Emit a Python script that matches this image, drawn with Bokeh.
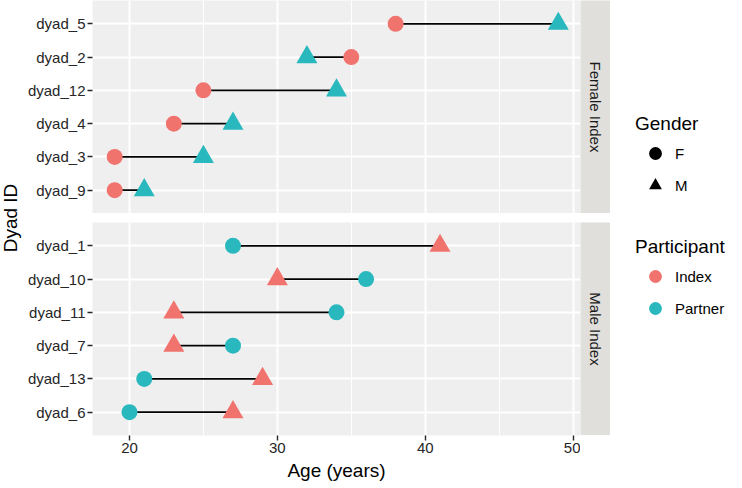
import math
from bokeh.plotting import figure
from bokeh.models import (ColumnDataSource, FactorRange, Range1d, FixedTicker,
                          Label, Legend, LegendItem, Spacer)
from bokeh.layouts import row, column
from bokeh.embed import file_html
from bokeh.resources import INLINE

# ---------------- data ----------------
female_ids = ["dyad_5", "dyad_2", "dyad_12", "dyad_4", "dyad_3", "dyad_9"]
female_index_age = [38, 35, 25, 23, 19, 19]
female_partner_age = [49, 32, 34, 27, 25, 21]
female_index_gender = "F"
female_partner_gender = "M"

male_ids = ["dyad_1", "dyad_10", "dyad_11", "dyad_7", "dyad_13", "dyad_6"]
male_index_age = [41, 30, 23, 23, 29, 27]
male_partner_age = [27, 36, 34, 27, 21, 20]
male_index_gender = "M"
male_partner_gender = "F"

facet_labels = ["Female Index", "Male Index"]
x_ticks = [20, 30, 40, 50]
x_minor = [25, 35, 45]
gender_levels = ["F", "M"]
participant_levels = ["Index", "Partner"]

# ---------------- style ----------------
FONT = "Liberation Sans"
RED = "#F0736E"
TEAL = "#29B8BD"
PANEL = "#EFEFEF"
STRIP = "#E0DFDB"
TXT = "#262626"
MARKER = {"F": "circle", "M": "triangle"}
MSIZE = {"F": 16, "M": 21}

PW, PH = 488, 213
GAP = 9
AXIS_H = 46


def bare(fig):
    fig.axis.visible = False
    fig.grid.visible = False
    fig.outline_line_color = None


def make_panel(ids, idx_age, idx_g, par_age, par_g, show_x):
    n = len(ids)
    src = ColumnDataSource(dict(
        dyad=ids, index_age=idx_age, partner_age=par_age,
        index_marker=[MARKER[idx_g]] * n, partner_marker=[MARKER[par_g]] * n,
        index_size=[MSIZE[idx_g]] * n, partner_size=[MSIZE[par_g]] * n,
    ))
    fig = figure(frame_width=PW, frame_height=PH,
                 x_range=Range1d(17.5, 50.5),
                 y_range=FactorRange(factors=list(reversed(ids)), range_padding=0.2,
                                     range_padding_units="absolute"),
                 output_backend="svg", toolbar_location=None,
                 min_border_left=65, min_border_right=0,
                 min_border_top=0, min_border_bottom=0)
    fig.background_fill_color = PANEL
    fig.border_fill_color = "white"
    fig.outline_line_color = None

    ticker = FixedTicker(ticks=x_ticks, minor_ticks=x_minor)
    fig.xaxis.ticker = ticker
    fig.xgrid.ticker = ticker
    fig.xgrid.grid_line_color = "white"
    fig.xgrid.grid_line_width = 2
    fig.xgrid.minor_grid_line_color = "white"
    fig.xgrid.minor_grid_line_width = 1
    fig.ygrid.grid_line_color = "white"
    fig.ygrid.grid_line_width = 2

    for ax in (fig.xaxis, fig.yaxis):
        ax.axis_line_color = None
        ax.major_tick_line_color = TXT
        ax.major_tick_line_width = 1.4
        ax.major_tick_out = 5
        ax.major_tick_in = 0
        ax.minor_tick_line_color = None
        ax.major_label_text_font = FONT
        ax.major_label_text_font_size = "15px"
        ax.major_label_text_color = TXT
        ax.major_label_standoff = 2
    if show_x:
        fig.xaxis.axis_label = "Age (years)"
        fig.xaxis.axis_label_text_font = FONT
        fig.xaxis.axis_label_text_font_size = "19px"
        fig.xaxis.axis_label_text_font_style = "normal"
        fig.xaxis.axis_label_text_color = "black"
        fig.xaxis.axis_label_standoff = 4
    else:
        fig.xaxis.visible = False

    fig.segment(x0="index_age", y0="dyad", x1="partner_age", y1="dyad",
                source=src, line_color="black", line_width=1.8)
    fig.scatter(x="index_age", y="dyad", marker="index_marker", size="index_size",
                source=src, fill_color=RED, line_color=None)
    fig.scatter(x="partner_age", y="dyad", marker="partner_marker", size="partner_size",
                source=src, fill_color=TEAL, line_color=None)
    return fig


def make_strip(text):
    s = figure(frame_width=30, frame_height=PH, x_range=Range1d(0, 1), y_range=Range1d(0, 1),
               output_backend="svg", toolbar_location=None,
               min_border=0, min_border_left=0, min_border_right=0,
               min_border_top=0, min_border_bottom=0)
    bare(s)
    s.background_fill_color = STRIP
    s.border_fill_color = STRIP
    s.add_layout(Label(x=0.5, y=0.5, text=text, angle=-math.pi / 2,
                       text_align="center", text_baseline="middle",
                       text_font=FONT, text_font_size="15px", text_color="#1A1A1A"))
    return s


top = make_panel(female_ids, female_index_age, female_index_gender,
                 female_partner_age, female_partner_gender, False)
bottom = make_panel(male_ids, male_index_age, male_index_gender,
                    male_partner_age, male_partner_gender, True)
strip_top = make_strip(facet_labels[0])
strip_bottom = make_strip(facet_labels[1])

# y-axis title
ytitle = figure(frame_width=24, frame_height=2 * PH + GAP, x_range=Range1d(0, 1),
                y_range=Range1d(0, 1), output_backend="svg", toolbar_location=None,
                min_border=0, min_border_left=0, min_border_right=0,
                min_border_top=0, min_border_bottom=0)
bare(ytitle)
ytitle.add_layout(Label(x=0.4, y=0.5, text="Dyad ID", angle=math.pi / 2,
                        text_align="center", text_baseline="middle",
                        text_font=FONT, text_font_size="19px", text_color="black"))

# legends
LEG_H = 470
leg = figure(frame_width=122, frame_height=LEG_H, x_range=Range1d(0, 1), y_range=Range1d(0, 1),
             output_backend="svg", toolbar_location=None,
             min_border=0, min_border_left=0, min_border_right=0,
             min_border_top=0, min_border_bottom=0)
bare(leg)

nan = float("nan")
g_items = []
for g in gender_levels:
    r = leg.scatter(x="x", y="y", source=ColumnDataSource(dict(x=[nan], y=[nan])),
                    marker=MARKER[g], fill_color="black", line_color=None)
    g_items.append(LegendItem(label=g, renderers=[r]))
p_items = []
for lab, col in zip(participant_levels, [RED, TEAL]):
    r = leg.scatter(x="x", y="y", source=ColumnDataSource(dict(x=[nan], y=[nan])),
                    marker="circle", fill_color=col, line_color=None)
    p_items.append(LegendItem(label=lab, renderers=[r]))


def style_legend(lg):
    lg.title_text_font = FONT
    lg.title_text_font_size = "19px"
    lg.title_text_font_style = "normal"
    lg.title_text_color = "black"
    lg.title_standoff = 2
    lg.label_text_font = FONT
    lg.label_text_font_size = "15px"
    lg.label_text_color = "black"
    lg.glyph_width = 40
    lg.glyph_height = 32
    lg.spacing = 0
    lg.label_standoff = 0
    lg.padding = 0
    lg.margin = 0
    lg.border_line_color = None
    lg.background_fill_alpha = 0


lg1 = Legend(items=g_items, title="Gender", location=(25, 269))
lg2 = Legend(items=p_items, title="Participant", location=(25, 146))
style_legend(lg1)
style_legend(lg2)
leg.add_layout(lg1)
leg.add_layout(lg2)

panels = column(row(top, strip_top), Spacer(height=GAP),
                row(bottom, column(strip_bottom, Spacer(height=AXIS_H))))
layout = row(column(ytitle, Spacer(height=AXIS_H)), panels, leg)

open("out.html", "w").write(file_html(layout, INLINE))
